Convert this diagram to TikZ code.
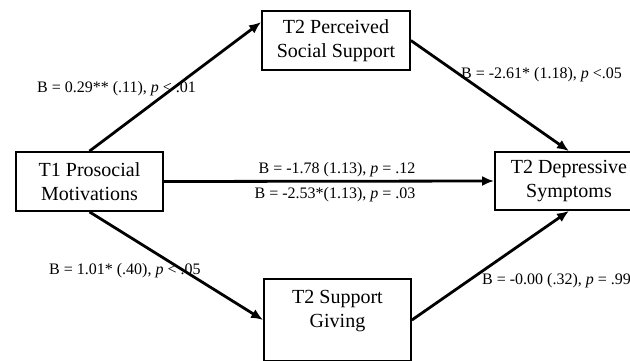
\documentclass[tikz,border=0pt]{standalone}
\usepackage{fontspec}
\setmainfont{Liberation Serif}
\usetikzlibrary{arrows.meta,calc}
\begin{document}
\begin{tikzpicture}[x=1pt,y=-1pt,
  box/.style={draw=black,line width=1.8pt,fill=white,inner sep=0pt,align=center,
    font=\fontsize{20}{24.5}\selectfont},
  conn/.style={line width=2.8pt,-{Latex[length=12pt,width=10pt]}},
  lab/.style={inner sep=0pt,font=\fontsize{16}{18}\selectfont}]
\useasboundingbox (0,0) rectangle (630,360);
\clip (0,0) rectangle (630,360);
\node[box,minimum width=147pt,minimum height=59pt] (t1) at (89.5,181.5) {T1 Prosocial\\Motivations};
\node[box,minimum width=148pt,minimum height=59pt] (pss) at (336,40.5) {T2 Perceived\\Social Support};
\node[box,minimum width=148pt,minimum height=58pt] (dep) at (569,181) {T2 Depressive\\Symptoms};
\node[box,minimum width=147pt,minimum height=82pt] (give) at (337.5,320) {};
\node[inner sep=0pt,align=center,font=\fontsize{20}{24.5}\selectfont] (givetext) at (337.5,311) {T2 Support\\Giving};
\draw[conn] (t1.north) -- ($(pss.north west)+(0,12)$);
\draw[conn] (pss.east) -- (dep.north);
\draw[conn] (t1.east) -- (dep.west);
\draw[conn] (t1.south) -- (give.west);
\draw[conn] (give.east) -- (dep.south);
\node[lab,anchor=west] (l1) at (37,89) {B = 0.29** (.11), \textit{p} < .01};
\node[lab,anchor=west] (l2) at (461,75) {B = -2.61* (1.18), \textit{p} <.05};
\node[lab] (l3) at (337,170) {B = -1.78 (1.13), \textit{p} = .12};
\node[lab] (l4) at (335,195) {B = -2.53*(1.13), \textit{p} = .03};
\node[lab,anchor=west] (l5) at (49,271) {B = 1.01* (.40), \textit{p} < .05};
\node[lab,anchor=west] (l6) at (482,281) {B = -0.00 (.32), \textit{p} = .99};
\end{tikzpicture}
\end{document}
